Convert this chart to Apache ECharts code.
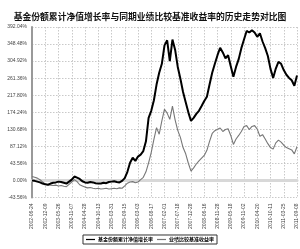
<!DOCTYPE html>
<html><head><meta charset="utf-8">
<script src="https://cdn.jsdelivr.net/npm/echarts@6/dist/echarts.min.js"></script>
<style>html,body{margin:0;padding:0;background:#fff}#c{width:300px;height:249px}</style>
</head><body><div id="c"></div>
<script>
var dateLabels = ["2002-06-24","2002-12-09","2003-05-26","2003-11-07","2004-04-28","2004-10-13","2005-03-31","2005-09-15","2006-03-03","2006-08-17","2007-02-01","2007-07-18","2007-12-28","2008-06-16","2008-11-28","2009-05-18","2009-11-02","2010-04-20","2010-10-11","2011-03-25","2011-09-08"];
var fundGrowth = [0,-1,-3,-5,-8,-10,-11,-8,-6,-5,-3,-4,-6,-8,-3,2,10,7,4,-2,-5,-6,-4,-5,-7,-8,-8,-6,-7,-4,-3,-2,-4,-5,-1,6,22,45,58,50,61,66,75,100,160,178,205,245,275,298,345,358,305,360,334,290,260,226,200,174,152,160,170,178,190,203,214,245,275,298,320,339,327,312,320,292,265,290,310,338,360,382,378,384,378,367,376,355,338,318,285,262,286,303,298,282,270,262,256,242,268];
var benchmark = [10,8,6,2,-4,-9,-11,-12,-13,-12,-14,-13,-15,-16,-10,-4,2,-3,-11,-14,-17,-19,-18,-20,-21,-20,-22,-21,-20,-22,-21,-20,-21,-19,-20,-14,-7,-4,-3,-6,-4,2,8,22,45,72,105,135,118,152,182,172,156,190,155,128,110,84,68,44,24,32,42,50,57,64,77,100,120,127,131,134,125,130,132,115,92,106,115,125,138,140,130,138,140,131,113,117,106,94,84,80,96,103,98,90,84,81,78,68,86];
var yTickStep = 43.56;
var pointsPerLabel = 5;
var seriesNames = ["基金份额累计净值增长率","业绩比较基准收益率"];

var categories = [];
for (var i = 0; i < fundGrowth.length; i++) {
  categories.push(i % pointsPerLabel === 0 ? dateLabels[i / pointsPerLabel] : "");
}
var chart = echarts.init(document.getElementById('c'));
chart.setOption({
  animation: false,
  title: {
    text: "基金份额累计净值增长率与同期业绩比较基准收益率的历史走势对比图",
    left: 'center', top: 7,
    textStyle: {fontFamily: "Noto Sans CJK SC", fontSize: 8.8, fontWeight: 'bold', color: '#111'}
  },
  grid: {left: 32, right: 3, top: 27, bottom: 51.5, containLabel: false},
  legend: {
    bottom: 5, left: 'center',
    data: seriesNames,
    icon: 'rect', itemWidth: 9, itemHeight: 1.2, itemGap: 4,
    borderColor: '#333', borderWidth: 1, padding: [2, 3],
    textStyle: {fontFamily: "Noto Sans CJK SC", fontSize: 5, fontWeight: 'bold', color: '#000', padding: [0, 0, 0, -2]}
  },
  xAxis: {
    type: 'category', data: categories, boundaryGap: false,
    axisLine: {show: true, lineStyle: {color: '#d8d8d8', width: 3}},
    axisTick: {show: false},
    axisLabel: {interval: pointsPerLabel - 1, rotate: 90, fontSize: 5, color: '#444', margin: 6, fontFamily: 'Liberation Sans'},
    splitLine: {show: true, interval: pointsPerLabel - 1, lineStyle: {color: '#bbb', type: [1.5, 1.5], width: 0.8}}
  },
  yAxis: {
    type: 'value', min: -yTickStep, max: yTickStep * 9, interval: yTickStep,
    axisLine: {show: true, lineStyle: {color: '#999', width: 2}},
    axisTick: {show: false},
    axisLabel: {fontSize: 5, color: '#444', margin: 5, fontFamily: 'Liberation Sans',
      formatter: function (v) { return v.toFixed(2) + '%'; }},
    splitLine: {show: true, lineStyle: {color: '#bbb', type: [1.5, 1.5], width: 0.8}}
  },
  series: [
    {name: seriesNames[0], type: 'line', data: fundGrowth, symbol: 'none', lineStyle: {color: '#000', width: 2}, itemStyle: {color: '#000'}, z: 3},
    {name: seriesNames[1], type: 'line', data: benchmark, symbol: 'none', lineStyle: {color: '#777', width: 1.1}, itemStyle: {color: '#777'}, z: 2}
  ]
});
</script>
</body></html>
